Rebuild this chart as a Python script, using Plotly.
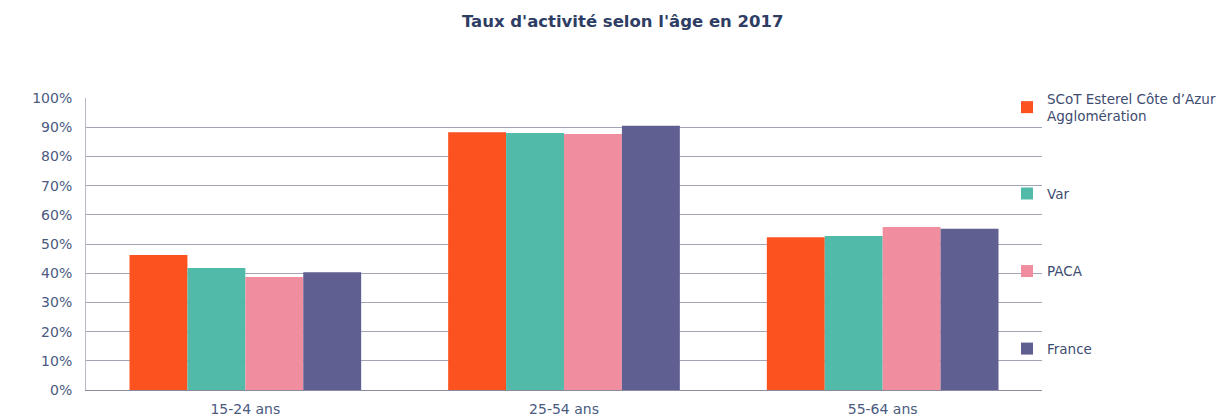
import plotly.graph_objects as go

categories = ["15-24 ans", "25-54 ans", "55-64 ans"]
series_names = ["SCoT Esterel Côte d’Azur<br>Agglomération", "Var", "PACA", "France"]
scot = [46.2, 88.3, 52.3]
var = [41.8, 88.0, 52.7]
paca = [38.7, 87.7, 55.8]
france = [40.3, 90.5, 55.2]
colors = ["#FC5220", "#52BAA8", "#F08EA0", "#5F5F91"]
y_ticks = list(range(0, 101, 10))
y_ticklabels = [f"{v}%" for v in y_ticks]

fig = go.Figure()
for i, (name, vals) in enumerate(zip(series_names, [scot, var, paca, france])):
    fig.add_trace(go.Bar(
        x=categories, y=vals, name=name, marker_color=colors[i],
        marker_line_width=0, legendgroup=f"g{i}",
    ))

fig.update_layout(
    width=1221, height=417,
    margin=dict(l=86, r=179, t=98, b=27, autoexpand=False),
    paper_bgcolor="white", plot_bgcolor="white",
    font=dict(family="DejaVu Sans, Verdana, sans-serif", size=14, color="#4A5A80"),
    title=dict(text="<b>Taux d'activité selon l'âge en 2017</b>", x=0.51, xref="container",
               y=0.95, yanchor="middle", font=dict(size=16.5, color="#2E3D63")),
    barmode="group", bargap=0.273, bargroupgap=0,
    showlegend=True,
    legend=dict(x=0.9634, xanchor="left", y=1.051, yanchor="top", traceorder="grouped",
                tracegroupgap=57, font=dict(size=13.5, color="#3E4C70"),
                itemwidth=30, bgcolor="rgba(0,0,0,0)", maxheight=400),
)
fig.update_yaxes(range=[0, 100], tickvals=y_ticks, ticktext=y_ticklabels,
                 showgrid=True, gridcolor="#A4A4B8", gridwidth=1,
                 showline=True, linecolor="#B8B8C8", linewidth=1,
                 zeroline=False, ticks="", ticklen=0, ticklabelstandoff=10)
fig.update_xaxes(showline=True, linecolor="#8A8AA0", linewidth=1, ticks="",
                 ticklabelstandoff=6)
fig.write_html("out.html", config={"displayModeBar": False},
               post_script="document.body.style.margin='0';")
